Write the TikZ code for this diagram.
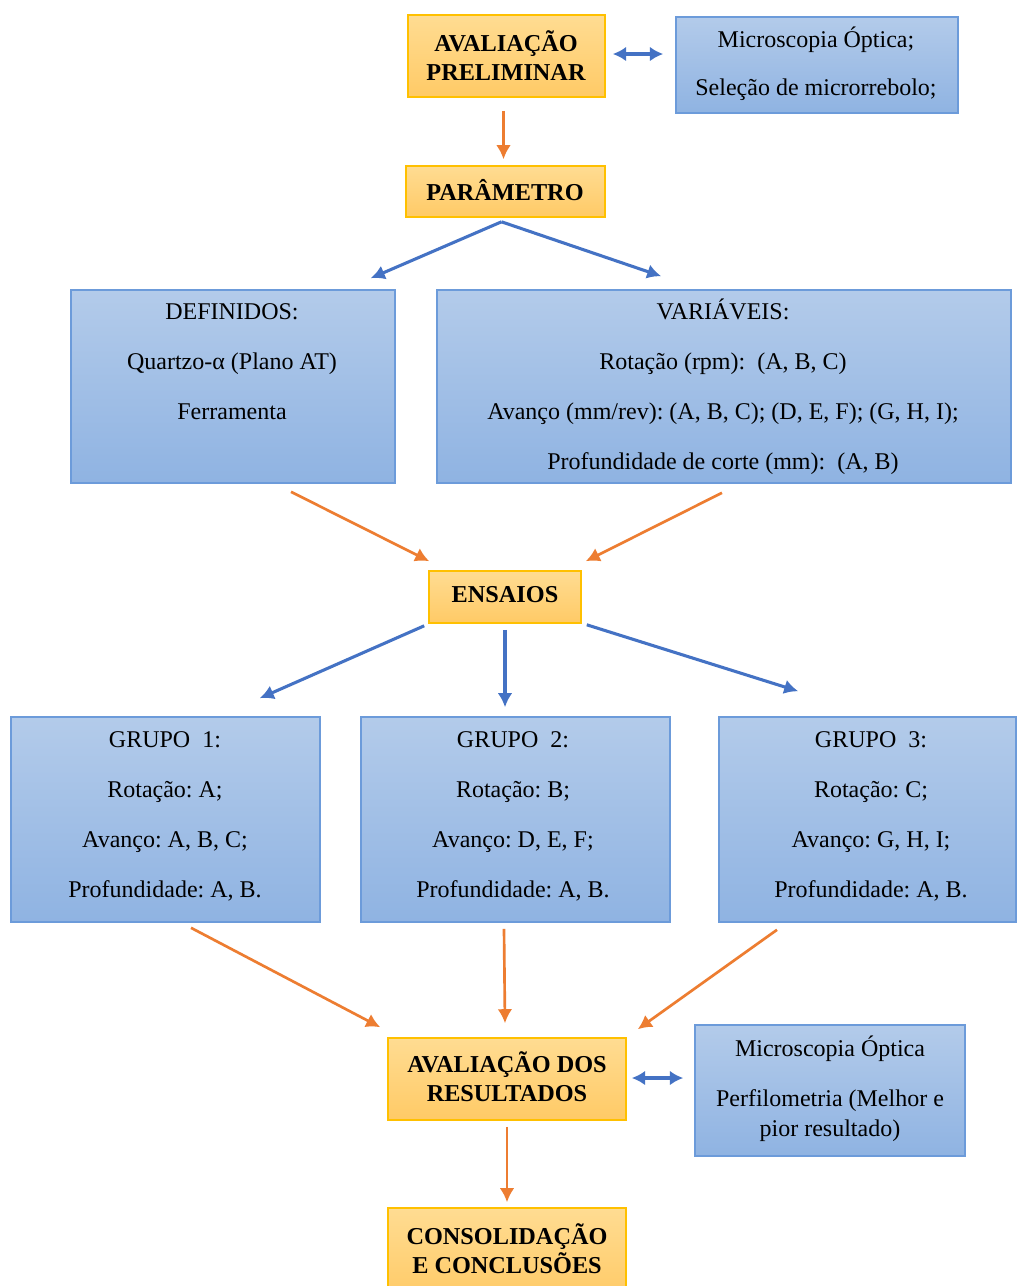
\documentclass[tikz,border=0pt]{standalone}
\usepackage{fontspec}
\setmainfont{Liberation Serif}
\usetikzlibrary{arrows.meta,calc,fit}
\frenchspacing
\definecolor{oarrow}{HTML}{ED7D31}
\definecolor{barrow}{HTML}{4472C4}
\definecolor{otop}{HTML}{FFDC92}
\definecolor{obot}{HTML}{FFCA66}
\definecolor{oline}{HTML}{FFC000}
\definecolor{btop}{HTML}{B3CBEA}
\definecolor{bbot}{HTML}{8FB3E2}
\definecolor{bline}{HTML}{6C9BDA}
\begin{document}
\begin{tikzpicture}[x=0.75pt,y=-0.75pt,
  obox/.style={draw=oline,line width=1.2pt,top color=otop,bottom color=obot,inner sep=0pt},
  bbox/.style={draw=bline,line width=1.2pt,top color=btop,bottom color=bbot,inner sep=0pt},
  btxt/.style={align=center,font=\fontsize{18.2}{21.75}\selectfont\bfseries,inner sep=0pt},
  ntxt/.style={align=center,font=\fontsize{18}{37.5}\selectfont,inner sep=0pt},
  oarr/.style={draw=oarrow,line width=2pt,-{Latex[length=10.5pt,width=11pt]}},
  barr/.style={draw=barrow,line width=2.3pt,-{Latex[length=10.5pt,width=11pt]}},
  dbarr/.style={draw=barrow,line width=2.3pt,{Latex[length=10pt,width=11pt]}-{Latex[length=10pt,width=11pt]}}
]
\useasboundingbox (0,0) rectangle (1017,1286);
\fill[white] (0,0) rectangle (1017,1286);
% boxes
\node[obox,fit={(408,15)(605,97)}] (prelim) {};
\node[bbox,fit={(676,17)(958,113)}] (micro1) {};
\node[obox,fit={(406,166)(605,217)}] (param) {};
\node[bbox,fit={(71,290)(395,483)}] (def) {};
\node[bbox,fit={(437,290)(1011,483)}] (var) {};
\node[obox,fit={(429,571)(581,623)}] (ens) {};
\node[bbox,fit={(11,717)(320,922)}] (g1) {};
\node[bbox,fit={(361,717)(670,922)}] (g2) {};
\node[bbox,fit={(719,717)(1016,922)}] (g3) {};
\node[obox,fit={(388,1038)(626,1120)}] (res) {};
\node[bbox,fit={(695,1025)(965,1156)}] (micro2) {};
\node[obox,fit={(388,1208)(626,1300)}] (cons) {};
% texts
\node[btxt] (prelimT) at (506,56) {AVALIAÇÃO\\PRELIMINAR};
\node[ntxt,font=\fontsize{18}{36}\selectfont] (micro1T) at (816,64) {Microscopia Óptica;\\Seleção de microrrebolo;};
\node[btxt] (paramT) at (505,190) {PARÂMETRO};
\node[ntxt] (defT) at (232,362) {DEFINIDOS:\\Quartzo-α (Plano AT)\\Ferramenta};
\node[ntxt] (varT) at (723,387) {VARIÁVEIS:\\Rotação (rpm):\ \ (A, B, C)\\Avanço (mm/rev): (A, B, C); (D, E, F); (G, H, I);\\Profundidade de corte (mm):\ \ (A, B)};
\node[btxt] (ensT) at (505,595) {ENSAIOS};
\node[ntxt] (g1T) at (165,816.5) {GRUPO\ \ 1:\\Rotação: A;\\Avanço: A, B, C;\\Profundidade: A, B.};
\node[ntxt] (g2T) at (513,816.5) {GRUPO\ \ 2:\\Rotação: B;\\Avanço: D, E, F;\\Profundidade: A, B.};
\node[ntxt] (g3T) at (871,816.5) {GRUPO\ \ 3:\\Rotação: C;\\Avanço: G, H, I;\\Profundidade: A, B.};
\node[btxt] (resT) at (507,1077) {AVALIAÇÃO DOS\\RESULTADOS};
\node[ntxt,font=\fontsize{18}{22.5}\selectfont] (micro2T) at (830,1089) {Microscopia Óptica\\[15pt]Perfilometria (Melhor e\\pior resultado)};
\node[btxt] (consT) at (507,1249) {CONSOLIDAÇÃO\\E CONCLUSÕES};
% connectors
\draw[oarr] ($(prelim.south)+(-3,13)$) -- ($(param.north)+(-2,-6)$);
\draw[dbarr] ($(prelim.east)+(7,-2)$) -- ($(micro1.west)+(-12,-11)$);
\draw[barr] ($(param.south)+(-4,4)$) -- ($(def.north east)+(-25,-11)$);
\draw[barr] ($(param.south)+(-4,4)$) -- ($(var.north west)+(225,-13)$);
\draw[oarr] ($(def.south)+(58,8)$) -- ($(ens.north west)+(1,-9)$);
\draw[oarr] ($(var.south)+(-2,9)$) -- ($(ens.north east)+(4,-9)$);
\draw[barr] ($(ens.south west)+(-4,2)$) -- ($(g1.north east)+(-61,-18)$);
\draw[barr] ($(ens.south)+(0,6)$) -- ($(g2.north)+(-10.5,-9)$);
\draw[barr] ($(ens.south east)+(5,1)$) -- ($(g3.north west)+(80,-25)$);
\draw[oarr] ($(g1.south)+(25.5,5)$) -- ($(res.north west)+(-7,-10)$);
\draw[oarr] ($(g2.south)+(-11.5,6)$) -- ($(res.north)+(-2,-14)$);
\draw[oarr] ($(g3.south)+(-90.5,7)$) -- ($(res.north east)+(11,-8)$);
\draw[dbarr] ($(res.east)+(5,-1)$) -- ($(micro2.west)+(-11,-12.5)$);
\draw[oarr] ($(res.south)+(0,6)$) -- ($(cons.north)+(0,-5)$);
\end{tikzpicture}
\end{document}
